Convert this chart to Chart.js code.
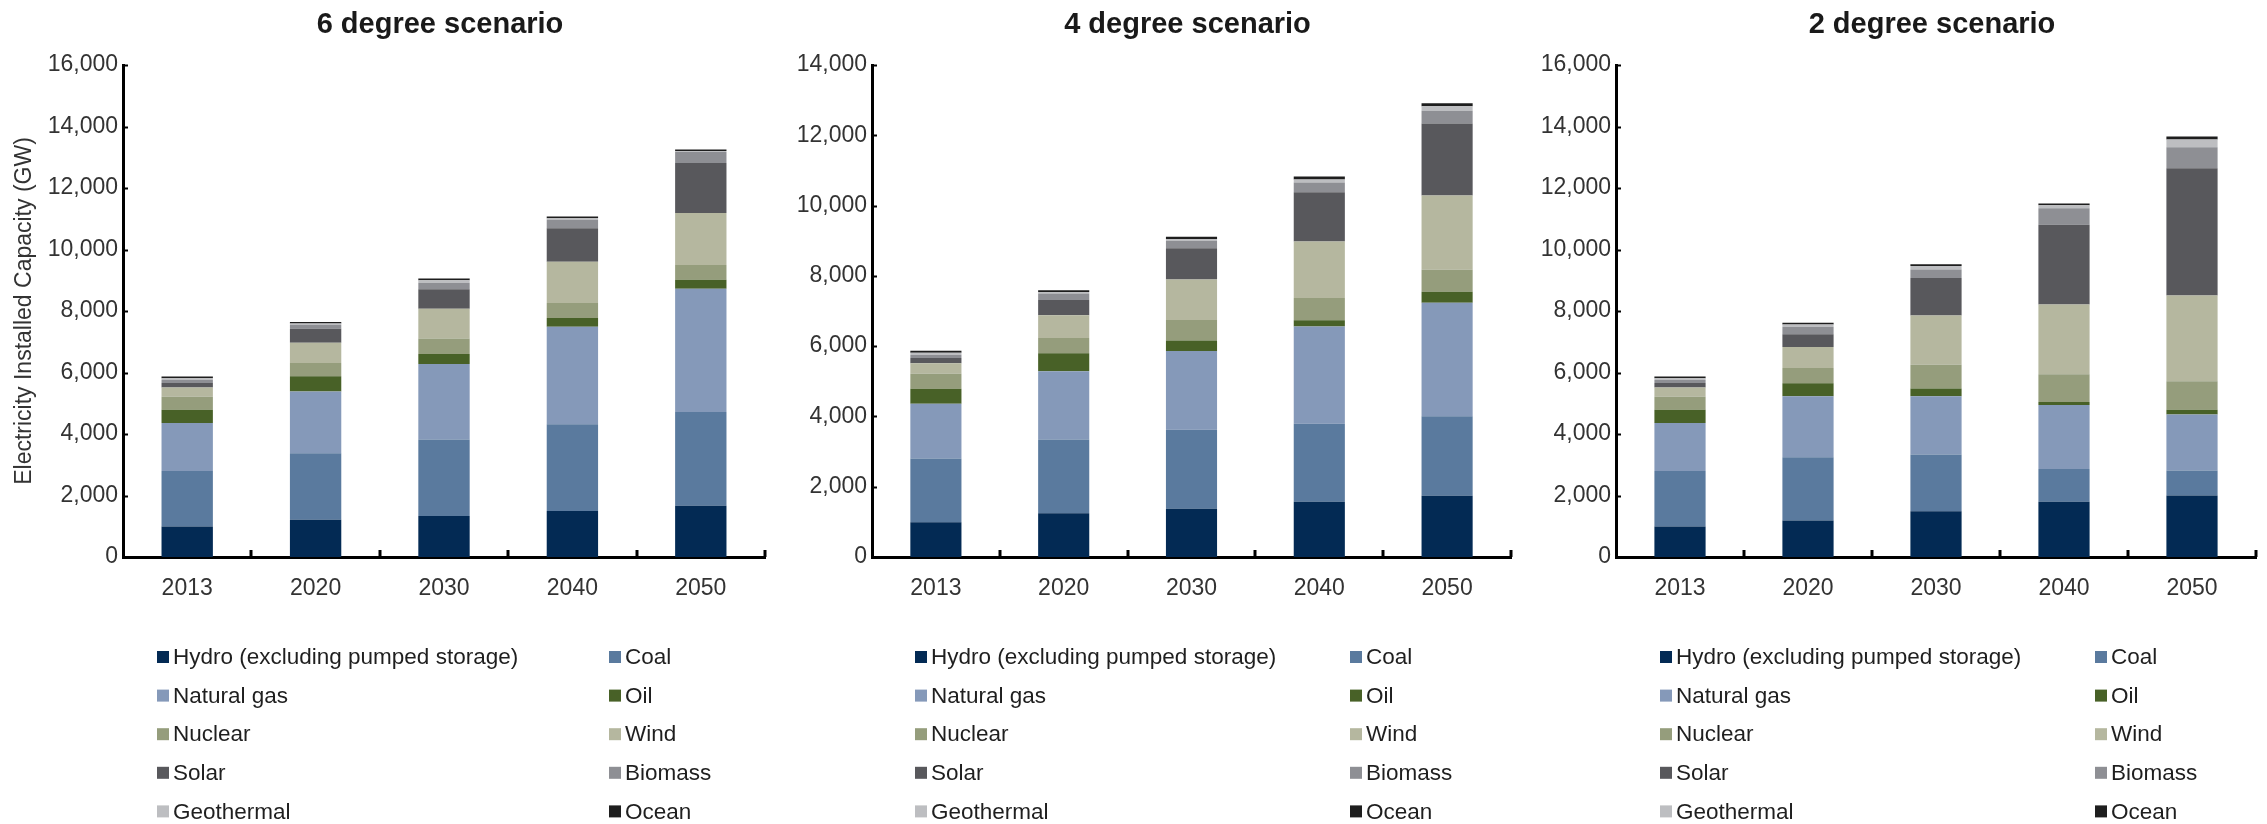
<!DOCTYPE html>
<html>
<head>
<meta charset="utf-8">
<script src="https://cdn.jsdelivr.net/npm/chart.js@4/dist/chart.umd.min.js"></script>
<style>
  html, body { margin: 0; padding: 0; background: #fff; }
  body { width: 2267px; height: 824px; position: relative; overflow: hidden; }
  canvas { position: absolute; top: 0; }
</style>
</head>
<body>
<canvas id="c6" width="780" height="824" style="left:0px"></canvas>
<canvas id="c4" width="745" height="824" style="left:780px"></canvas>
<canvas id="c2" width="742" height="824" style="left:1525px"></canvas>
<script>
const years = ['2013', '2020', '2030', '2040', '2050'];
const sources = ['Hydro (excluding pumped storage)', 'Coal', 'Natural gas', 'Oil', 'Nuclear',
                 'Wind', 'Solar', 'Biomass', 'Geothermal', 'Ocean'];
const colours = ['#032a54', '#5a7a9e', '#8599b9', '#486127', '#959d7c',
                 '#b5b79f', '#58585c', '#8e8f94', '#bdbec1', '#1e1e1e'];

// installed capacity, GW — 6 degree scenario
const hydro6   = [990, 1210, 1335, 1500, 1670];
const coal6    = [1810, 2160, 2490, 2820, 3045];
const gas6     = [1560, 2010, 2450, 3170, 4005];
const oil6     = [430, 495, 325, 285, 300];
const nuclear6 = [425, 430, 505, 485, 480];
const wind6    = [300, 660, 970, 1340, 1685];
const solar6   = [145, 460, 630, 1095, 1625];
const biomass6 = [95, 125, 215, 270, 360];
const geo6     = [55, 40, 80, 50, 30];
const ocean6   = [60, 50, 60, 55, 55];

// 4 degree scenario
const hydro4   = [990, 1245, 1370, 1570, 1745];
const coal4    = [1810, 2100, 2250, 2220, 2260];
const gas4     = [1560, 1940, 2240, 2770, 3230];
const oil4     = [430, 510, 300, 180, 315];
const nuclear4 = [425, 435, 585, 630, 625];
const wind4    = [300, 650, 1150, 1610, 2115];
const solar4   = [145, 435, 890, 1400, 2045];
const biomass4 = [95, 185, 215, 275, 360];
const geo4     = [55, 40, 50, 90, 130];
const ocean4   = [60, 50, 60, 80, 90];

// 2 degree scenario
const hydro2   = [990, 1190, 1490, 1800, 2000];
const coal2    = [1810, 2050, 1840, 1060, 810];
const gas2     = [1560, 1990, 1900, 2080, 1825];
const oil2     = [430, 420, 250, 100, 150];
const nuclear2 = [425, 500, 770, 900, 930];
const wind2    = [300, 680, 1600, 2270, 2790];
const solar2   = [145, 410, 1220, 2595, 4140];
const biomass2 = [95, 250, 280, 535, 680];
const geo2     = [55, 70, 110, 100, 250];
const ocean2   = [60, 55, 60, 60, 100];

const yTicksMax6 = 16000, yTicksMax4 = 14000, yTicksMax2 = 16000;
const yStep = 2000;

const FONT = '"Liberation Sans", Arial, sans-serif';

// titles, inside tick marks and the two-column legend
const framePlugin = {
  id: 'frame',
  afterDraw(chart, args, opts) {
    const { ctx, chartArea: area, scales: { x, y } } = chart;
    ctx.save();
    ctx.strokeStyle = '#000';
    ctx.lineWidth = 3;
    const half = (x.getPixelForValue(1) - x.getPixelForValue(0)) / 2;
    for (let i = 0; i < years.length; i++) {
      const px = Math.round(x.getPixelForValue(i) + half);
      ctx.beginPath();
      ctx.moveTo(px, area.bottom);
      ctx.lineTo(px, area.bottom - 7);
      ctx.stroke();
    }
    ctx.lineWidth = 2;
    y.ticks.forEach(t => {
      const py = Math.round(y.getPixelForValue(t.value)) + 0.5;
      ctx.beginPath();
      ctx.moveTo(area.left, py);
      ctx.lineTo(area.left + 5, py);
      ctx.stroke();
    });

    ctx.fillStyle = '#1a1a1a';
    ctx.font = 'bold 29px ' + FONT;
    ctx.textAlign = 'center';
    ctx.textBaseline = 'middle';
    ctx.fillText(opts.title, (area.left + area.right) / 2 - 4, 25);

    ctx.font = '22.5px ' + FONT;
    ctx.textAlign = 'left';
    chart.data.datasets.forEach((ds, i) => {
      const lx = opts.legendX[i % 2] - opts.offset;
      const ly = 657 + Math.floor(i / 2) * 38.6;
      ctx.fillStyle = ds.backgroundColor;
      ctx.fillRect(lx, ly - 6, 12, 12);
      ctx.fillStyle = '#1f1f1f';
      ctx.fillText(ds.label, lx + 16, ly + 1);
    });
    ctx.restore();
  }
};

function makeChart(id, title, series, max, opt) {
  const datasets = series.map((data, i) => ({
    label: sources[i],
    data: data,
    backgroundColor: colours[i],
    borderWidth: 0,
    categoryPercentage: 1,
    barPercentage: 0.4
  }));
  return new Chart(document.getElementById(id), {
    type: 'bar',
    data: { labels: years, datasets },
    plugins: [framePlugin],
    options: {
      responsive: false,
      animation: false,
      layout: { padding: { top: 65, right: opt.padRight, bottom: 207, left: 0 } },
      plugins: {
        legend: { display: false },
        tooltip: { enabled: false },
        frame: { title, legendX: opt.legendX, offset: opt.offset }
      },
      scales: {
        x: {
          stacked: true,
          grid: { display: false, drawTicks: false },
          border: { display: true, color: '#000', width: 3 },
          ticks: { color: '#333', padding: 18, font: { family: FONT, size: 23 } },
          afterFit: s => { s.height = 60; }
        },
        y: {
          stacked: true,
          min: 0,
          max: max,
          grid: { display: false, drawTicks: false },
          border: { display: true, color: '#000', width: 3 },
          ticks: { stepSize: yStep, color: '#333', padding: 5, font: { family: FONT, size: 23 } },
          title: {
            display: opt.yTitle,
            text: 'Electricity Installed Capacity (GW)',
            color: '#333',
            font: { family: FONT, size: 23 },
            padding: { top: 11, bottom: 0 }
          },
          afterFit: s => { s.width = opt.yWidth; }
        }
      }
    }
  });
}

makeChart('c6', '6 degree scenario',
  [hydro6, coal6, gas6, oil6, nuclear6, wind6, solar6, biomass6, geo6, ocean6],
  yTicksMax6, { yWidth: 123, padRight: 15, yTitle: true, legendX: [157, 609], offset: 0 });

makeChart('c4', '4 degree scenario',
  [hydro4, coal4, gas4, oil4, nuclear4, wind4, solar4, biomass4, geo4, ocean4],
  yTicksMax4, { yWidth: 92, padRight: 14, yTitle: false, legendX: [915, 1350], offset: 780 });

makeChart('c2', '2 degree scenario',
  [hydro2, coal2, gas2, oil2, nuclear2, wind2, solar2, biomass2, geo2, ocean2],
  yTicksMax2, { yWidth: 91, padRight: 11, yTitle: false, legendX: [1660, 2095], offset: 1525 });
</script>
</body>
</html>
